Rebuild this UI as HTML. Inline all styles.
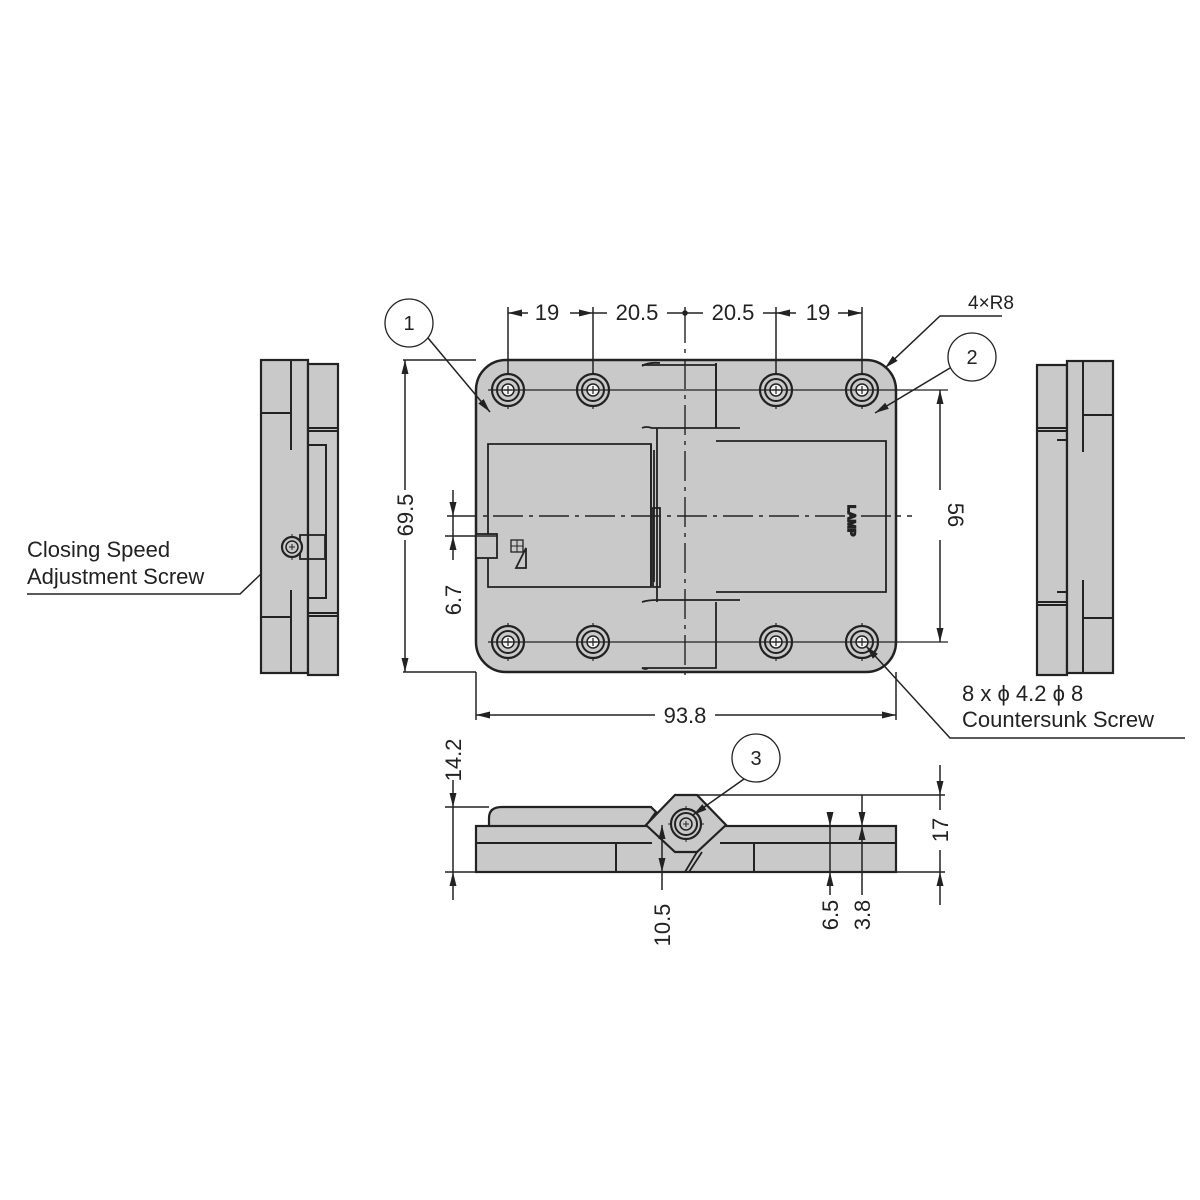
<!DOCTYPE html>
<html><head><meta charset="utf-8"><style>
html,body{margin:0;padding:0;background:#fff}
svg{display:block}
text{font-family:"Liberation Sans",sans-serif;fill:#222}
</style></head><body>
<svg width="1200" height="1200" viewBox="0 0 1200 1200" xmlns="http://www.w3.org/2000/svg">
<defs>
<marker id="a" viewBox="0 0 14 10" refX="14" refY="5" markerWidth="14" markerHeight="10" markerUnits="userSpaceOnUse" orient="auto-start-reverse"><path d="M0,1.5 L14,5 L0,8.5 z" fill="#222"/></marker>
<g id="hole"><circle r="16" fill="#c9c9c9" stroke="#222" stroke-width="2.2"/><circle r="11" fill="#c9c9c9" stroke="#222" stroke-width="2"/><circle r="6" fill="#f4f4f4" stroke="#222" stroke-width="1.5"/><path d="M-4,0H4M0,-4V4M0,-19V-16M0,16V19" stroke="#222" stroke-width="1.2"/></g>
</defs>
<g stroke="#222" fill="none" stroke-width="1.5">

<rect x="476" y="360" width="420" height="312" rx="30" fill="#c9c9c9" stroke-width="2.5"/>
<path d="M642,365 H716 V427 M642,428 Q646,426 652,428 H740" stroke-width="1.8"/>
<path d="M642,366 Q648,362 660,363" stroke-width="1.8"/>
<path d="M716,363 V428" stroke-width="2"/>
<path d="M657,428 V602" stroke-width="1.8"/>
<path d="M642,602 Q648,600 657,600 H740 M716,602 V668 H642 Q646,670 648,668" stroke-width="1.8"/>
<path d="M651,444 H488 V587 H651 Z" stroke-width="1.8"/>
<path d="M651,444 V587 M654,450 V582" stroke-width="1.8"/>
<rect x="653" y="508" width="7" height="79" stroke-width="1.8"/>
<path d="M716,441 H886 V592 H716" stroke-width="1.8"/>
<rect x="476" y="534" width="21" height="24" fill="#c9c9c9" stroke-width="1.8"/>
<rect x="511" y="540" width="12" height="12" stroke-width="1.3"/>
<path d="M511,546H523M517,540V552" stroke-width="1"/>
<path d="M526,548 L516,568 H526 Z" stroke-width="1.8"/>
<text x="0" y="0" font-size="11" font-weight="bold" transform="translate(848,505) rotate(90)" style="fill:#333">LAMP</text>
<use href="#hole" x="508" y="390"/><use href="#hole" x="593" y="390"/><use href="#hole" x="776" y="390"/><use href="#hole" x="862" y="390"/>
<use href="#hole" x="508" y="642"/><use href="#hole" x="593" y="642"/><use href="#hole" x="776" y="642"/><use href="#hole" x="862" y="642"/>
<path d="M488,390 H948 M488,642 H948" stroke-width="1.3"/>
<path d="M685,313 V680" stroke-dasharray="30,6,4,6" stroke-width="1.4"/>
<path d="M447,516 H912" stroke-dasharray="30,6,4,6" stroke-width="1.4"/>

<path d="M508,307 V374 M593,307 V374 M685,307 V313 M776,307 V374 M862,307 V374"/>
<path d="M528,313 H508" marker-end="url(#a)"/>
<path d="M570,313 H593" marker-end="url(#a)"/>
<path d="M593,313 H607 M667,313 H703 M763,313 H776"/>
<circle cx="685" cy="313" r="2" fill="#222"/>
<path d="M796,313 H776" marker-end="url(#a)"/>
<path d="M838,313 H862" marker-end="url(#a)"/>
<path d="M403,360 H476 M403,672 H476"/>
<path d="M405,490 V360" marker-end="url(#a)"/>
<path d="M405,540 V672" marker-end="url(#a)"/>
<path d="M445,536 H497"/>
<path d="M453,490 V516" marker-end="url(#a)"/>
<path d="M453,560 V536" marker-end="url(#a)"/>
<path d="M453,516 V536"/>
<path d="M940,490 V390" marker-end="url(#a)"/>
<path d="M940,540 V642" marker-end="url(#a)"/>
<path d="M476,672 V720 M896,672 V720"/>
<path d="M655,715 H476" marker-end="url(#a)"/>
<path d="M715,715 H896" marker-end="url(#a)"/>

<circle cx="409" cy="323" r="24" stroke-width="1.3"/>
<path d="M428,338 L490,412" marker-end="url(#a)"/>
<circle cx="972" cy="357" r="24" stroke-width="1.3"/>
<path d="M950,368 L875,413" marker-end="url(#a)"/>
<path d="M1002,316 H940 L885,368" marker-end="url(#a)"/>
<path d="M1185,738 H950 L866,646" marker-end="url(#a)"/>
<path d="M27,594 H240 L283,553" marker-end="url(#a)"/>

<rect x="261" y="360" width="47" height="313" fill="#c9c9c9" stroke-width="2.2"/>
<rect x="308" y="364" width="30" height="311" fill="#c9c9c9" stroke-width="2.2"/>
<path d="M291,360 V450 M291,590 V673 M261,413 H291 M261,617 H291 M308,428 H338 M308,431 H338 M308,613 H338 M308,616 H338" stroke-width="2"/>
<path d="M308,445 H326 V598 H308" stroke-width="2"/>
<rect x="300" y="535" width="25" height="24" stroke-width="1.8"/>
<circle cx="292" cy="547" r="10" fill="#c9c9c9" stroke-width="2.2"/><circle cx="292" cy="547" r="6" stroke-width="1.5"/>
<path d="M289,547H295M292,544V550M292,534V537M292,557V560" stroke-width="1"/>

<rect x="1037" y="365" width="30" height="310" fill="#c9c9c9" stroke-width="2.2"/>
<rect x="1067" y="361" width="46" height="312" fill="#c9c9c9" stroke-width="2.2"/>
<path d="M1083,361 V452 M1083,580 V673 M1083,415 H1113 M1083,618 H1113 M1037,428 H1067 M1037,431 H1067 M1037,602 H1067 M1037,605 H1067 M1057,440 H1067 M1057,592 H1067" stroke-width="2"/>

<path d="M489,826 V818 Q489,807 502,807 H651 L656,812 L646,826" fill="#c9c9c9" stroke-width="2.2"/>
<rect x="476" y="826" width="420" height="46" fill="#c9c9c9" stroke-width="2.2"/>
<path d="M476,843 H652 M720,843 H896 M616,843 V872 M754,843 V872" stroke-width="2"/>
<path d="M646,825 L675,795 H697 L726,825 L697,852 H675 Z" fill="#c9c9c9" stroke-width="2.2"/>
<path d="M697,852 L685,872 M702,852 L689,872" stroke-width="1.8"/>
<circle cx="686" cy="824" r="15" stroke-width="2.2"/><circle cx="686" cy="824" r="11" stroke-width="2"/><circle cx="686" cy="824" r="6" stroke-width="1.5"/>
<path d="M683,824H689M686,821V827M668,824H672M700,824H704M686,806V810M686,838V842" stroke-width="1"/>
<circle cx="756" cy="758" r="24" stroke-width="1.3"/>
<path d="M744,779 L693,815" marker-end="url(#a)"/>
<path d="M445,807 H489 M445,872 H476"/>
<path d="M453,780 V807" marker-end="url(#a)"/>
<path d="M453,900 V872" marker-end="url(#a)"/>
<path d="M453,807 V872"/>
<path d="M697,795 H945 M896,872 H945"/>
<path d="M940,765 V795" marker-end="url(#a)"/>
<path d="M940,905 V872" marker-end="url(#a)"/>
<path d="M940,795 V810 M940,850 V872"/>
<path d="M862,795 V826" marker-end="url(#a)"/>
<path d="M862,895 V826" marker-end="url(#a)"/>
<path d="M830,812 V826" marker-end="url(#a)"/>
<path d="M830,895 V872" marker-end="url(#a)"/>
<path d="M830,826 V872"/>
<path d="M662,850 V825" marker-end="url(#a)"/>
<path d="M662,850 V872" marker-end="url(#a)"/>
<path d="M662,872 V890"/>
</g>

<g font-size="22">
<text x="547" y="320" text-anchor="middle">19</text>
<text x="637" y="320" text-anchor="middle">20.5</text>
<text x="733" y="320" text-anchor="middle">20.5</text>
<text x="818" y="320" text-anchor="middle">19</text>
<text x="968" y="309" font-size="19">4×R8</text>
<text x="685" y="723" text-anchor="middle">93.8</text>
<text x="409" y="330" text-anchor="middle" font-size="20">1</text>
<text x="972" y="364" text-anchor="middle" font-size="20">2</text>
<text x="756" y="765" text-anchor="middle" font-size="20">3</text>
<text transform="translate(413,515) rotate(-90)" text-anchor="middle">69.5</text>
<text transform="translate(461,600) rotate(-90)" text-anchor="middle">6.7</text>
<text transform="translate(948,515) rotate(90)" text-anchor="middle">56</text>
<text transform="translate(461,760) rotate(-90)" text-anchor="middle">14.2</text>
<text transform="translate(948,830) rotate(-90)" text-anchor="middle">17</text>
<text transform="translate(670,925) rotate(-90)" text-anchor="middle">10.5</text>
<text transform="translate(838,915) rotate(-90)" text-anchor="middle">6.5</text>
<text transform="translate(870,915) rotate(-90)" text-anchor="middle">3.8</text>
<text x="962" y="701">8 x ϕ 4.2 ϕ 8</text>
<text x="962" y="727">Countersunk Screw</text>
<text x="27" y="557">Closing Speed</text>
<text x="27" y="584">Adjustment Screw</text>
</g>
</svg>
</body></html>
